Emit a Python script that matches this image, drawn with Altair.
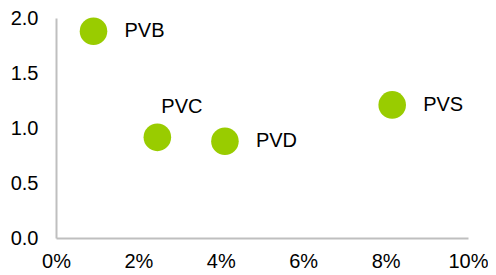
import altair as alt
import pandas as pd

names = ["PVB", "PVC", "PVD", "PVS"]
x_vals = [0.0091, 0.0246, 0.0410, 0.0816]
y_vals = [1.88, 0.915, 0.88, 1.21]
label_pos = ["right", "above", "right", "right"]

df = pd.DataFrame({"name": names, "x": x_vals, "y": y_vals, "pos": label_pos})

FONT = "Liberation Sans"
FS = 20

base = alt.Chart(df).encode(
    x=alt.X("x:Q", scale=alt.Scale(domain=[0, 0.10], nice=False),
            axis=alt.Axis(format=".0%", values=[0, 0.02, 0.04, 0.06, 0.08, 0.10],
                          title=None, grid=False, ticks=False, domainColor="#BFBFBF",
                          domainWidth=2, labelFontSize=FS, labelFont=FONT,
                          labelColor="#000000", labelPadding=13, labelFlush=False)),
    y=alt.Y("y:Q", scale=alt.Scale(domain=[0, 2.0], nice=False),
            axis=alt.Axis(format=".1f", values=[0, 0.5, 1.0, 1.5, 2.0],
                          title=None, grid=False, ticks=False, domainColor="#BFBFBF",
                          domainWidth=2, labelFontSize=FS, labelFont=FONT,
                          labelColor="#000000", labelPadding=18, labelFlush=False)),
)

points = base.mark_circle(size=760, opacity=1, color="#99CC00")

right_labels = base.transform_filter(alt.datum.pos == "right").mark_text(
    align="left", baseline="middle", dx=31, fontSize=FS, font=FONT, color="#000000"
).encode(text="name:N")

above_labels = base.transform_filter(alt.datum.pos == "above").mark_text(
    align="left", baseline="middle", dx=4, dy=-30, fontSize=FS, font=FONT, color="#000000"
).encode(text="name:N")

chart = alt.layer(points, right_labels, above_labels).properties(
    width=412, height=220,
    autosize=alt.AutoSizeParams(type="none"),
    padding={"left": 48, "top": 10, "right": 20, "bottom": 36},
).configure_view(stroke=None)

chart.save("out.html", embed_options={"renderer": "svg", "actions": False})
